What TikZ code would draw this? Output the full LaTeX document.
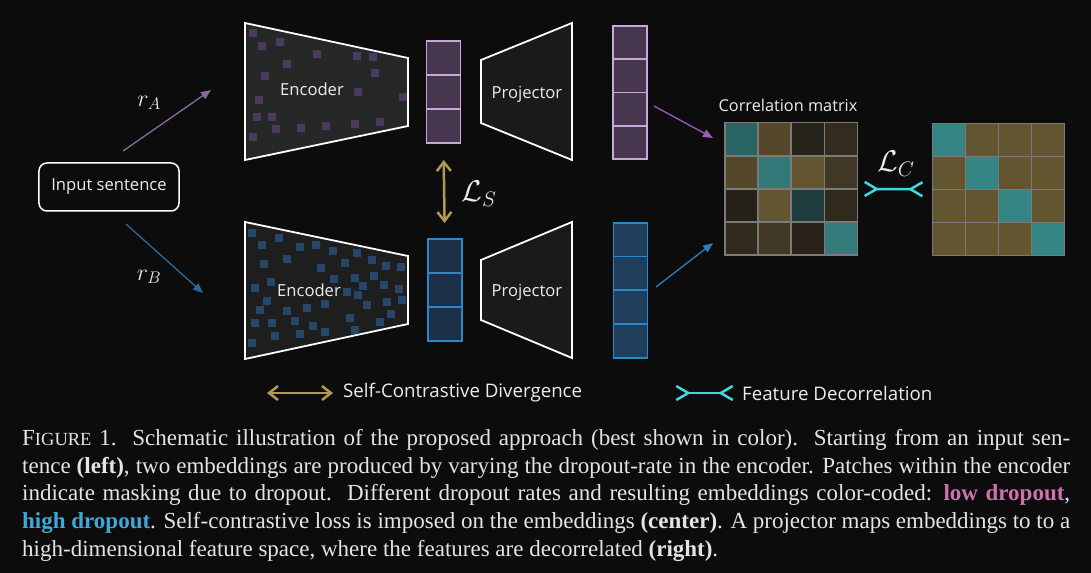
\RequirePackage{fix-cm}
\documentclass[tikz,border=0pt]{standalone}
\usepackage{fontspec}
\setmainfont{Liberation Serif}
\newfontfamily\diagfont{Open Sans}
\usetikzlibrary{positioning,arrows.meta}

\definecolor{bgcol}{HTML}{0C0C0C}
\definecolor{txtcol}{HTML}{EDEDED}
\definecolor{capcol}{HTML}{E4E4E4}
\definecolor{encAfill}{HTML}{262828}
\definecolor{encBfill}{HTML}{1E1E1E}
\definecolor{projfill}{HTML}{1A1A1A}
\definecolor{patchA}{HTML}{4B3A5E}
\definecolor{patchB}{HTML}{27476A}
\definecolor{embAfill}{HTML}{46374F}
\definecolor{embAline}{HTML}{C8A8D8}
\definecolor{embBfill}{HTML}{1B3048}
\definecolor{embBline}{HTML}{2A88C8}
\definecolor{outBfill}{HTML}{1E3E5C}
\definecolor{rAcol}{HTML}{8A6A9E}
\definecolor{rBcol}{HTML}{2A6A9A}
\definecolor{toAcol}{HTML}{9A5AB8}
\definecolor{toBcol}{HTML}{2A80C0}
\definecolor{goldcol}{HTML}{B09A50}
\definecolor{cyancol}{HTML}{40D8E0}
\definecolor{gridcol}{HTML}{7A7A7A}
\definecolor{offcol}{HTML}{635530}
\definecolor{diagcol}{HTML}{358585}
\definecolor{lowd}{HTML}{D070B0}
\definecolor{highd}{HTML}{40A8D8}

\tikzset{
  lbl/.style={text=txtcol, font=\diagfont\fontsize{16.6bp}{19bp}\selectfont, inner sep=0},
  leglbl/.style={lbl, font=\diagfont\fontsize{18.7bp}{22bp}\selectfont},
  mlbl/.style={text=txtcol, inner sep=0},
  inbox/.style={draw=white, line width=1.5bp, rounded corners=8bp, minimum width=140bp,
    minimum height=48bp, text=txtcol, font=\diagfont\fontsize{16.6bp}{19bp}\selectfont},
  shell/.style={draw=white, line width=1.8bp, line join=miter},
  cellA/.style={draw=embAline, fill=embAfill, line width=1.8bp, minimum width=34bp,
    minimum height=34bp, inner sep=0, outer sep=0},
  cellB/.style={cellA, draw=embBline, fill=embBfill},
  outcellA/.style={cellA, minimum height=33.3bp},
  outcellB/.style={cellA, draw=embBline, fill=outBfill, minimum height=33.75bp},
  mcell/.style={draw=gridcol, line width=1.5bp},
  rarrA/.style={draw=rAcol, line width=1.3bp, -{Triangle[length=10bp,width=8bp]}},
  rarrB/.style={rarrA, draw=rBcol},
  lsarr/.style={draw=goldcol, line width=2.5bp,
    {Straight Barb[length=9bp,width=14bp]}-{Straight Barb[length=9bp,width=14bp]}},
  lcline/.style={draw=cyancol, line width=2.5bp,
    {Straight Barb[reversed,length=12bp,width=14bp]}-{Straight Barb[reversed,length=12bp,width=14bp]}},
  captext/.style={text=capcol, inner sep=0, align=left, font=\fontsize{23bp}{27.7bp}\selectfont}
}

\begin{document}
\begin{tikzpicture}[x=1bp, y=-1bp]
\fill[bgcol] (0,0) rectangle (1091,573);
\useasboundingbox (0,0) rectangle (1091,573);

% Input
\node[inbox] (input) at (109,187) {Input sentence};
\coordinate (rAs) at (123,151);
\coordinate (rAe) at (211,90);
\coordinate (rBs) at (126,224);
\coordinate (rBe) at (203,293);
\draw[rarrA] (rAs) -- (rAe);
\draw[rarrB] (rBs) -- (rBe);
\node[mlbl, font=\fontsize{24bp}{28bp}\selectfont] (rAlbl) at (149,103) {$r_A$};
\node[mlbl, font=\fontsize{24bp}{28bp}\selectfont] (rBlbl) at (149,277) {$r_B$};

% Encoders
\filldraw[shell, fill=encAfill] (245,23) -- (408,58) -- (408,126) -- (245,160) -- cycle;
\foreach \x/\y in {252.7/32.7, 261.7/45.7, 280/41.7, 316.7/53.7, 286.7/63.7, 356.7/55.7,
    372.7/57, 264.7/75.7, 374.7/72.7, 357.7/91.7, 259/99.7, 402.7/96.7, 256.7/116.7,
    271.7/116.7, 275.7/129.3, 300.7/127.7, 325.7/125.7, 354.7/123.7, 379.7/121.7, 252.7/136.7}
  \fill[patchA] (\x-4,\y-4) rectangle ++(8,8);
\node[lbl] (encA) at (312,89) {Encoder};

\filldraw[shell, fill=encBfill] (245,222) -- (408,256) -- (408,324) -- (245,359) -- cycle;
\foreach \x/\y in {251.7/232.7, 278.7/237.7, 262/244.7, 299.7/246.7, 315.7/244.7, 332.7/250.7,
    356.7/252.7, 286.7/258.7, 263.7/264, 320.7/267.7, 344.7/262.7, 371.7/259.7, 385.7/265.7,
    400.7/266.7, 333.7/278.7, 354.7/277.7, 373.7/275.7, 270.7/281.7, 254.7/287.7, 362.7/285.7,
    383.7/284.7, 398.7/288.7, 346.7/291.7, 357.7/294.7, 266.7/300.7, 386.7/301.7, 401.7/299.7,
    325/303.7, 306.7/307.7, 366.7/304.7, 259.7/310, 286.7/311, 390.7/313.7,
    349.7/317.7, 294.7/320.7, 255.3/322.7, 271.7/322.7, 312.7/325.7, 379.7/321.7, 354.7/329.7,
    274.7/335.7, 299.7/333.7, 324.7/331.7, 251.7/342.7}
  \fill[patchB] (\x-4,\y-4) rectangle ++(8,8);
\node[lbl] (encB) at (309,290) {Encoder};

% Embeddings
\node[cellA] (embA1) at (443.5,58) {};
\node[cellA, below=0bp of embA1] (embA2) {};
\node[cellA, below=0bp of embA2] (embA3) {};
\node[cellB] (embB1) at (444.8,256) {};
\node[cellB, below=0bp of embB1] (embB2) {};
\node[cellB, below=0bp of embB2] (embB3) {};
\draw[lsarr, shorten <=17bp, shorten >=16bp] (embA3.south) -- (embB1.north);
\node[mlbl, font=\fontsize{30bp}{34bp}\selectfont] (lslbl) at (479,194) {$\mathcal{L}_S$};

% Projectors
\filldraw[shell, fill=projfill] (481,60) -- (572,23) -- (572,160) -- (481,123) -- cycle;
\node[lbl] (projA) at (527,94) {Projector};
\filldraw[shell, fill=projfill] (481,260) -- (572,222) -- (572,358) -- (481,320) -- cycle;
\node[lbl] (projB) at (527,292) {Projector};

% Projected features
\node[outcellA] (outA1) at (630,42.6) {};
\node[outcellA, below=0bp of outA1] (outA2) {};
\node[outcellA, below=0bp of outA2] (outA3) {};
\node[outcellA, below=0bp of outA3] (outA4) {};
\node[outcellB] (outB1) at (630.5,239.6) {};
\node[outcellB, below=0bp of outB1] (outB2) {};
\node[outcellB, below=0bp of outB2] (outB3) {};
\node[outcellB, below=0bp of outB3] (outB4) {};

% Correlation matrices
\foreach \c [count=\n from 0] in {2A6465,54472A,26231A,332C1E, 54472A,327878,635530,403825,
    26221A,635530,1E3C3D,302A1C, 302A1C,403825,2A221A,357A7A} {
  \pgfmathtruncatemacro\row{int(\n/4)}
  \pgfmathtruncatemacro\col{mod(\n,4)}
  \definecolor{cc}{HTML}{\c}
  \filldraw[mcell, fill=cc] (725+\col*33.1,122.7+\row*33.1) rectangle ++(33.1,33.1);
}
\node[minimum size=132.4bp, inner sep=0, outer sep=0] (corrL) at (791.2,188.9) {};
\node[lbl, font=\diagfont\fontsize{16.3bp}{19bp}\selectfont] (corrlbl) at (788,105) {Correlation matrix};

\foreach \row in {0,...,3}
  \foreach \col in {0,...,3} {
    \ifnum\row=\col \def\mc{diagcol}\else \def\mc{offcol}\fi
    \filldraw[mcell, fill=\mc] (932.7+\col*33,123.3+\row*33) rectangle ++(33,33);
  }
\node[minimum size=132bp, inner sep=0, outer sep=0] (corrR) at (998.7,189.3) {};

\coordinate (toAs) at (654,106);
\coordinate (toAe) at (713,138);
\coordinate (toBs) at (656,287);
\coordinate (toBe) at (713,243);
\draw[rarrA, draw=toAcol] (toAs) -- (toAe);
\draw[rarrB, draw=toBcol] (toBs) -- (toBe);

\draw[lcline, shorten <=6bp, shorten >=9bp] (corrL.east) -- (corrR.west);
\node[mlbl, font=\fontsize{30bp}{34bp}\selectfont] (lclbl) at (896,164) {$\mathcal{L}_C$};

% Legend
\coordinate (legAs) at (267,393);
\coordinate (legAe) at (333,393);
\draw[lsarr] (legAs) -- (legAe);
\node[leglbl, anchor=west] (legAtxt) at (343,393) {Self-Contrastive Divergence};
\coordinate (legBs) at (675,393);
\coordinate (legBe) at (734,393);
\draw[lcline] (legBs) -- (legBe);
\node[leglbl, anchor=west] (legBtxt) at (742,393) {Feature Decorrelation};

% Caption
\node[captext, anchor=north west] (caption) at (22,429) {%
\makebox[1048bp][s]{F{\fontsize{18.5bp}{20bp}\selectfont IGURE} 1.\ \ Schematic illustration of the proposed approach (best shown in color).\ \ Starting from an input sen-}\\
\makebox[1048bp][s]{tence \textbf{(left)}, two embeddings are produced by varying the dropout-rate in the encoder. Patches within the encoder}\\
\makebox[1048bp][s]{indicate masking due to dropout.\ \ Different dropout rates and resulting embeddings color-coded: \textcolor{lowd}{\textbf{low dropout}},}\\
\makebox[1048bp][s]{\textcolor{highd}{\textbf{high dropout}}. Self-contrastive loss is imposed on the embeddings \textbf{(center)}. A projector maps embeddings to to a}\\
high-dimensional feature space, where the features are decorrelated \textbf{(right)}.};
\end{tikzpicture}
\end{document}
